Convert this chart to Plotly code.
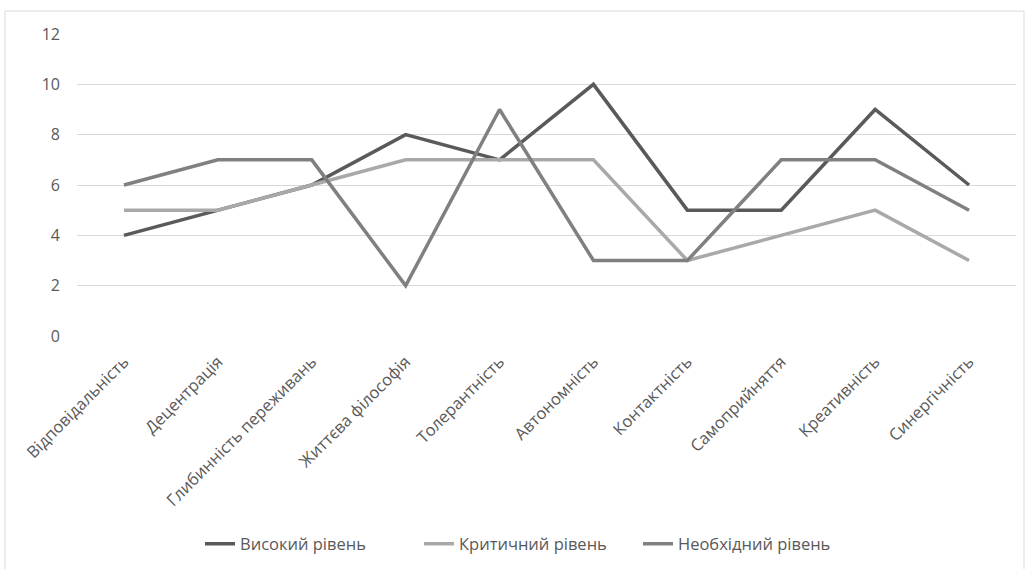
import plotly.graph_objects as go

categories = ["Відповідальність", "Децентрація", "Глибинність переживань", "Життєва філософія",
              "Толерантність", "Автономність", "Контактність", "Самоприйняття", "Креативність", "Синергічність"]
high = [4, 5, 6, 8, 7, 10, 5, 5, 9, 6]
critical = [5, 5, 6, 7, 7, 7, 3, 4, 5, 3]
needed = [6, 7, 7, 2, 9, 3, 3, 7, 7, 5]

series = [
    ("Високий рівень", high, "#5a5a5a"),
    ("Критичний рівень", critical, "#a9a9a9"),
    ("Необхідний рівень", needed, "#808080"),
]

W, H = 1025, 569
L, R, T, B = 77, 9, 34, 232
pw, ph = W - L - R, H - T - B

fig = go.Figure()
for name, vals, color in series:
    fig.add_trace(go.Scatter(x=categories, y=vals, mode="lines", name=name,
                             line=dict(color=color, width=3.5)))

font = "'Open Sans', Lato, sans-serif"
fig.update_layout(
    width=W, height=H,
    margin=dict(l=L, r=R, t=T, b=B),
    paper_bgcolor="white", plot_bgcolor="white",
    font=dict(family=font, size=13, color="#595959"),
    xaxis=dict(type="category", range=[-0.5, len(categories) - 0.5], tickangle=-45,
               showgrid=False, showline=False, zeroline=False, ticks="", ticklabelstandoff=12,
               tickfont=dict(size=16.5, color="#595959")),
    yaxis=dict(range=[0, 12], dtick=2, showgrid=True, gridcolor="#d9d9d9", gridwidth=1,
               zeroline=False, showline=False, ticks="", ticklabelstandoff=16,
               tickfont=dict(size=16, color="#595959")),
    legend=dict(orientation="h", x=(200 - L) / pw, xanchor="left", y=(H - 544 - B) / ph, yanchor="middle",
                font=dict(size=16.5, color="#595959"), itemwidth=30, tracegroupgap=0,
                entrywidth=174, entrywidthmode="pixels"),
    showlegend=True,
)

# outer chart frame
fig.add_shape(type="rect", xref="paper", yref="paper",
              x0=(5 - L) / pw, x1=(1024 - L) / pw,
              y0=(H - B - 575) / ph, y1=(H - B - 11) / ph,
              line=dict(color="#d9d9d9", width=1), fillcolor="rgba(0,0,0,0)", layer="below")

fig.write_html("out.html")
